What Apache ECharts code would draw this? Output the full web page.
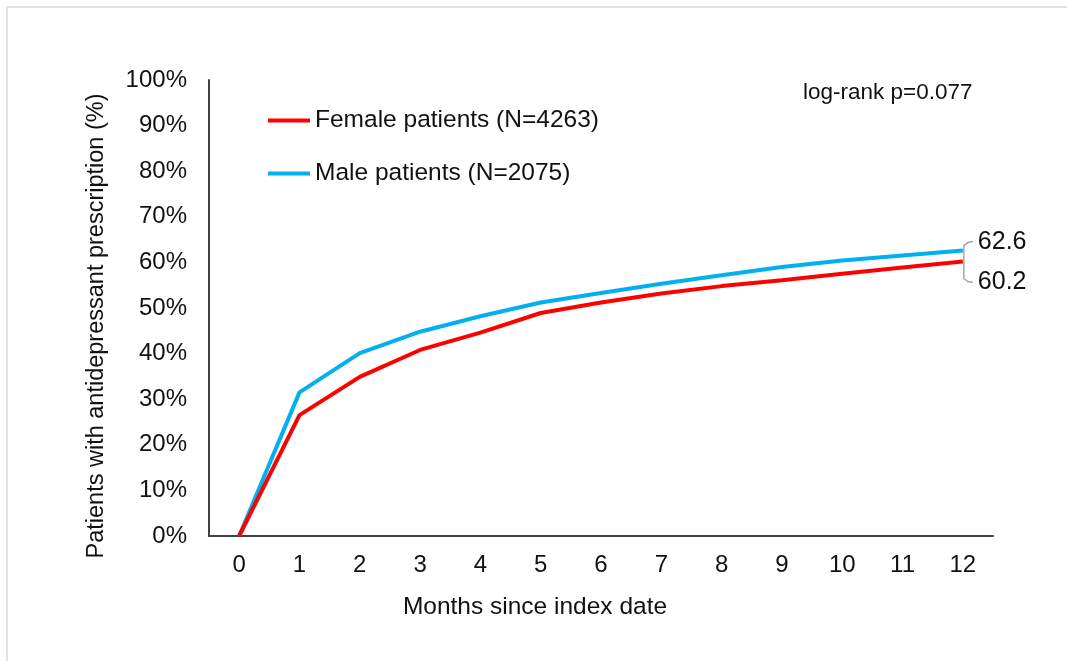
<!DOCTYPE html>
<html>
<head>
<meta charset="utf-8">
<script src="https://cdn.jsdelivr.net/npm/echarts@6/dist/echarts.min.js"></script>
<style>
body{margin:0;background:#fff;}
#main{width:1067px;height:661px;}
.frame{position:absolute;left:6px;top:6px;width:1061px;height:655px;border-left:2px solid #e2e2e2;border-top:2px solid #e2e2e2;pointer-events:none;}
</style>
</head>
<body>
<div id="main"></div>
<div class="frame"></div>
<script>
// 数据
var months=['0','1','2','3','4','5','6','7','8','9','10','11','12'];
var female=[0,26.5,34.9,40.8,44.6,48.9,51.2,53.2,54.8,56.1,57.5,58.9,60.2];
var male=[0,31.5,40.1,44.8,48.2,51.2,53.3,55.3,57.2,59.0,60.4,61.5,62.6];
var yTicks=[0,10,20,30,40,50,60,70,80,90,100];

var font='Liberation Sans, Arial, sans-serif';
var narrow='Liberation Sans Narrow, Arial Narrow, Liberation Sans, sans-serif';
var myChart=echarts.init(document.getElementById('main'));

var option={
    animation:false,
    title:{
        text:'log-rank p=0.077',
        left:798,
        top:76,
        textStyle:{fontFamily:font,fontSize:22.5,fontWeight:'normal',color:'#111'}
    },
    legend:{
        orient:'vertical',
        left:263,
        top:103,
        itemWidth:42,
        itemHeight:4,
        itemGap:28,
        icon:'rect',
        textStyle:{fontFamily:font,fontSize:24.5,color:'#111'},
        data:['Female patients (N=4263)','Male patients (N=2075)']
    },
    grid:{left:209,right:74,top:80,bottom:125},
    xAxis:{
        type:'category',
        data:months,
        boundaryGap:true,
        name:'Months since index date',
        nameLocation:'middle',
        nameGap:59,
        nameTextStyle:{fontFamily:font,fontSize:24.5,color:'#111',padding:[0,132,0,0]},
        axisLine:{lineStyle:{color:'#404040',width:2}},
        axisTick:{show:false},
        axisLabel:{fontFamily:narrow,fontSize:24,color:'#111',margin:17}
    },
    yAxis:{
        type:'value',
        min:0,
        max:100,
        interval:10,
        name:'Patients with antidepressant prescription (%)',
        nameLocation:'middle',
        nameGap:100,
        nameTextStyle:{fontFamily:font,fontSize:23.5,color:'#111',padding:[0,36,0,0]},
        splitLine:{show:false},
        axisLine:{show:true,lineStyle:{color:'#404040',width:2}},
        axisTick:{show:false},
        axisLabel:{fontFamily:font,fontSize:24,color:'#111',margin:22,
            formatter:function(v){return yTicks.indexOf(v)>=0?v+'%':'';}}
    },
    series:[{
        name:'Female patients (N=4263)',
        type:'line',
        data:female,
        symbol:'none',
        z:3,
        lineStyle:{color:'#ff0000',width:4},
        itemStyle:{color:'#ff0000'},
        endLabel:{show:true,distance:15,offset:[0,21],fontFamily:font,fontSize:25,color:'#111',
            formatter:function(p){return p.value.toFixed(1);}}
    },{
        name:'Male patients (N=2075)',
        type:'line',
        data:male,
        symbol:'none',
        z:2,
        lineStyle:{color:'#00b0f0',width:4},
        itemStyle:{color:'#00b0f0'},
        endLabel:{show:true,distance:15,offset:[0,-8],fontFamily:font,fontSize:25,color:'#111',
            formatter:function(p){return p.value.toFixed(1);}}
    }]
};
myChart.setOption(option);

// 末端标签的括号线
var last=months.length-1;
var pm=myChart.convertToPixel({seriesIndex:1},[last,male[last]]);
var pf=myChart.convertToPixel({seriesIndex:0},[last,female[last]]);
var x0=pm[0]+1, yt=pm[1]-9, yb=pf[1]+21;
myChart.setOption({
    graphic:[{
        type:'polyline',
        shape:{points:[[x0+9,yt],[x0+4,yt+1],[x0,yt+4],[x0,yb-4],[x0+4,yb-1],[x0+9,yb]]},
        style:{stroke:'#a6a6a6',lineWidth:1.5,fill:null},
        z:1
    }]
});
</script>
</body>
</html>
